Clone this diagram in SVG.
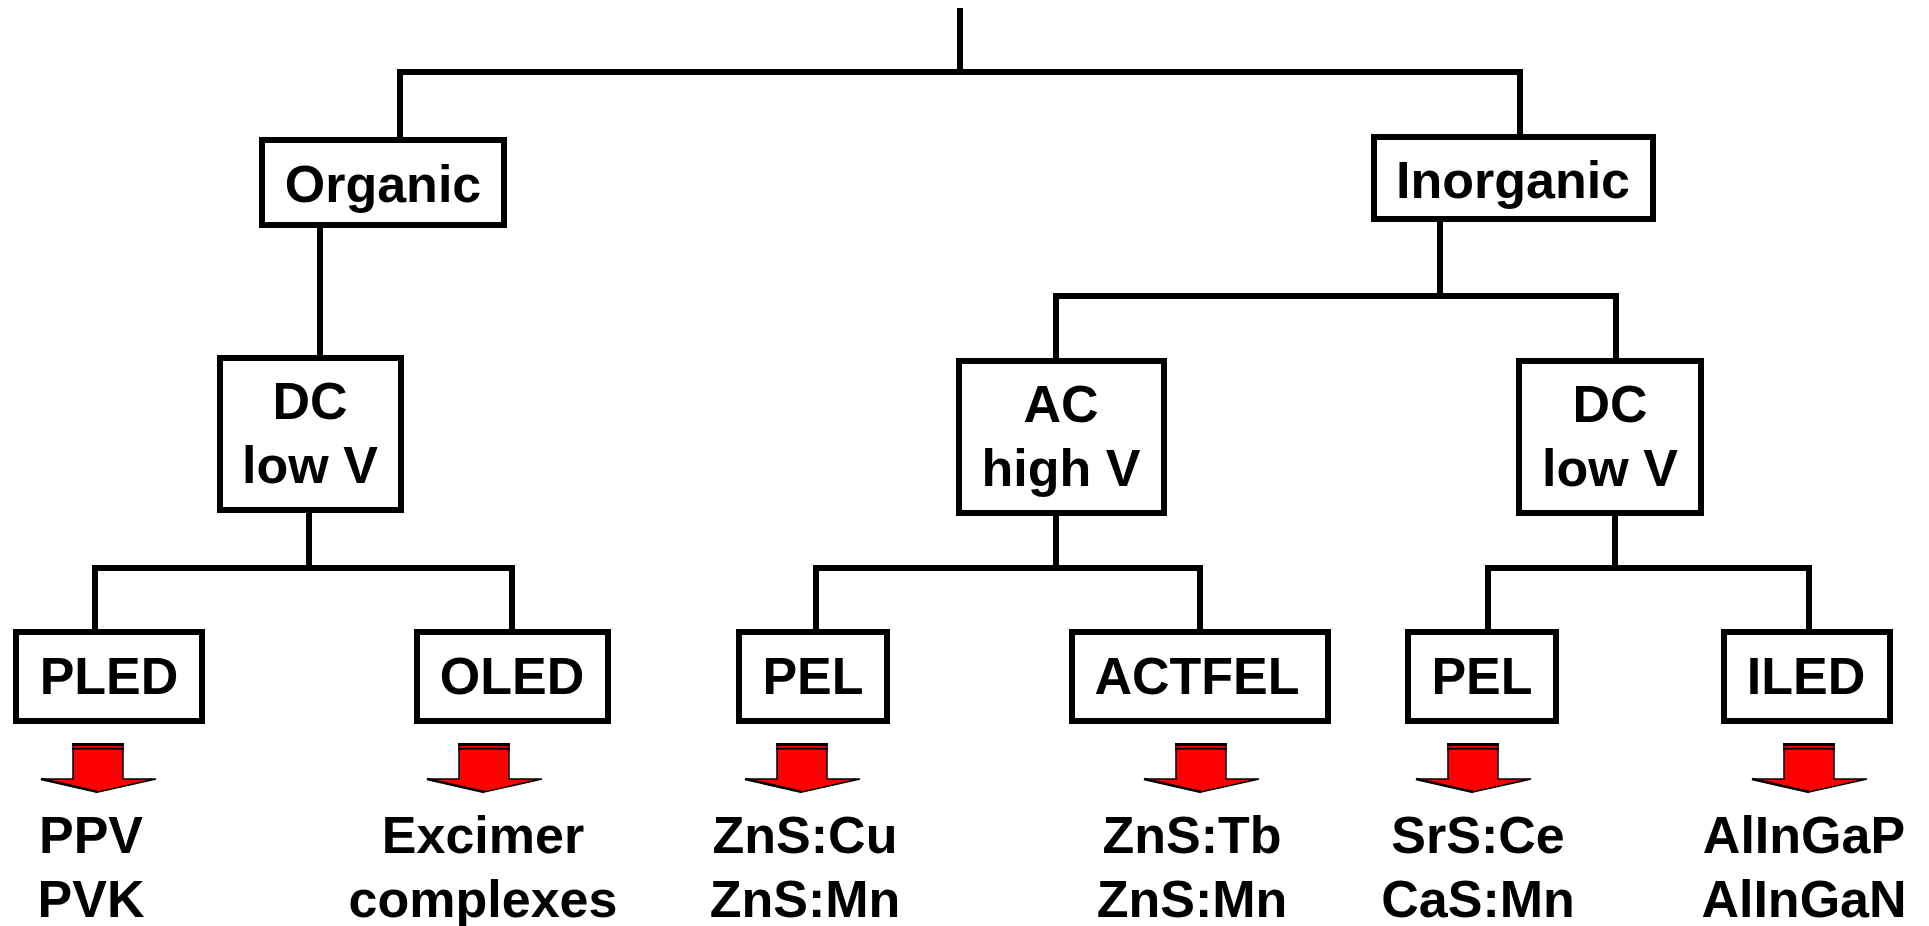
<svg xmlns="http://www.w3.org/2000/svg" width="1929" height="926" viewBox="0 0 1929 926">
<style>
.box{fill:#fff;stroke:#000;stroke-width:6}
.lbl{font-family:"Liberation Sans",Arial,sans-serif;font-weight:bold;font-size:52px;fill:#000;text-anchor:middle}
.conn{stroke:#000;stroke-width:6;fill:none;stroke-linecap:square}
</style>
<defs>
<g id="arrow">
<polygon points="-25,744 25,744 25,779 58,779 0,792 -57,779 -25,779" fill="#ff0000" stroke="#000" stroke-width="1.5" stroke-linejoin="miter"/>
<rect x="-26" y="743" width="52" height="3" fill="#000"/>
<rect x="-25" y="746.5" width="50" height="1.2" fill="#ff0000"/>
<rect x="-26" y="747.7" width="52" height="2" fill="#000"/>
<path d="M-57,779 L0,792" stroke="#000" stroke-width="2.5" fill="none"/>
</g>
</defs>
<rect width="1929" height="926" fill="#fff"/>
<g id="connectors">
<path class="conn" d="M960,11 V72 M400,72 H1520 M400,72 V137 M1520,72 V134"/>
<path class="conn" d="M320,231 V355"/>
<path class="conn" d="M309,516 V568 M95,568 H512 M95,568 V629 M512,568 V629"/>
<path class="conn" d="M1440,222 V296 M1056,296 H1616 M1056,296 V358 M1616,296 V358"/>
<path class="conn" d="M1056,516 V568 M816,568 H1200 M816,568 V629 M1200,568 V629"/>
<path class="conn" d="M1615,516 V568 M1488,568 H1809 M1488,568 V629 M1809,568 V629"/>
</g>
<g id="organic"><rect class="box" x="262" y="140" width="242" height="85"/><text class="lbl" x="383" y="202">Organic</text></g>
<g id="inorganic"><rect class="box" x="1374" y="137" width="279" height="82"/><text class="lbl" x="1513" y="198">Inorganic</text></g>
<g id="dc-left"><rect class="box" x="220" y="358" width="181" height="152"/><text class="lbl" x="310" y="419">DC</text><text class="lbl" x="310" y="483">low V</text></g>
<g id="ac"><rect class="box" x="959" y="361" width="205" height="152"/><text class="lbl" x="1061" y="422">AC</text><text class="lbl" x="1061" y="486">high V</text></g>
<g id="dc-right"><rect class="box" x="1519" y="361" width="182" height="152"/><text class="lbl" x="1610" y="422">DC</text><text class="lbl" x="1610" y="486">low V</text></g>
<g id="pled"><rect class="box" x="16" y="632" width="186" height="89"/><text class="lbl" x="109" y="694">PLED</text></g>
<g id="oled"><rect class="box" x="417" y="632" width="191" height="89"/><text class="lbl" x="512" y="694">OLED</text></g>
<g id="pel1"><rect class="box" x="739" y="632" width="148" height="89"/><text class="lbl" x="813" y="694">PEL</text></g>
<g id="actfel"><rect class="box" x="1072" y="632" width="256" height="89"/><text class="lbl" x="1197" y="694">ACTFEL</text></g>
<g id="pel2"><rect class="box" x="1408" y="632" width="148" height="89"/><text class="lbl" x="1482" y="694">PEL</text></g>
<g id="iled"><rect class="box" x="1724" y="632" width="166" height="89"/><text class="lbl" x="1806" y="694">ILED</text></g>
<g id="arrows">
<use href="#arrow" transform="translate(98,0)"/>
<use href="#arrow" transform="translate(484,0)"/>
<use href="#arrow" transform="translate(802,0)"/>
<use href="#arrow" transform="translate(1201,0)"/>
<use href="#arrow" transform="translate(1473,0)"/>
<use href="#arrow" transform="translate(1809,0)"/>
</g>
<g id="materials">
<text class="lbl" x="91" y="853">PPV</text><text class="lbl" x="91" y="917">PVK</text>
<text class="lbl" x="483" y="853">Excimer</text><text class="lbl" x="483" y="917">complexes</text>
<text class="lbl" x="805" y="853">ZnS:Cu</text><text class="lbl" x="805" y="917">ZnS:Mn</text>
<text class="lbl" x="1192" y="853">ZnS:Tb</text><text class="lbl" x="1192" y="917">ZnS:Mn</text>
<text class="lbl" x="1478" y="853">SrS:Ce</text><text class="lbl" x="1478" y="917">CaS:Mn</text>
<text class="lbl" x="1804" y="853">AlInGaP</text><text class="lbl" x="1804" y="917">AlInGaN</text>
</g>
</svg>
